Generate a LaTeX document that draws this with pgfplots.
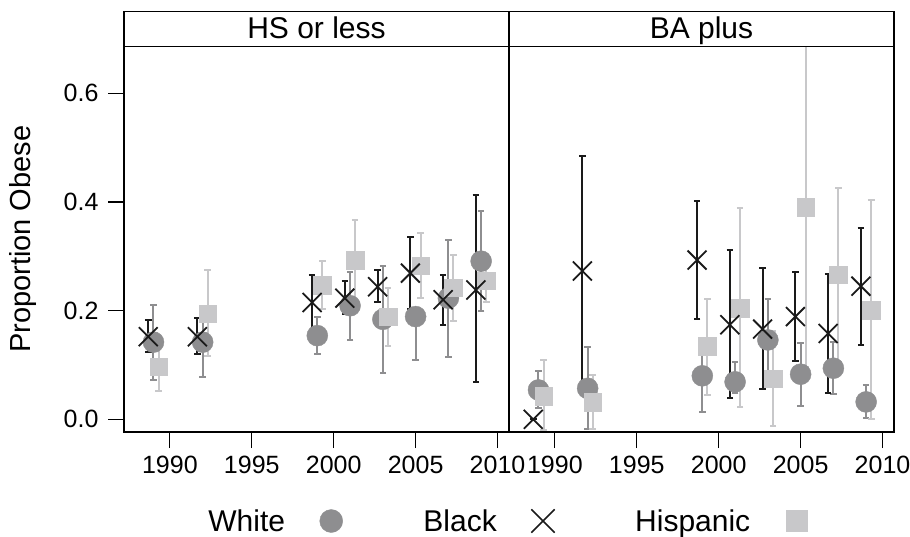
\documentclass[border=0pt]{standalone}
\usepackage{fontspec}
\setmainfont{Liberation Sans}
\usepackage{pgfplots}
\pgfplotsset{compat=1.18}
\usepackage{pgfplotstable}

\definecolor{wcol}{HTML}{8E8E90}
\definecolor{hcol}{HTML}{C8C8CA}
\definecolor{bcol}{HTML}{1A1A1A}

% proportion obese with interval ends, by survey year
\pgfplotstableread{
year wy    wlo    whi   by    blo   bhi   hy    hlo    hhi
1989 0.142 0.072  0.210 0.152 0.124 0.183 0.097 0.052  0.141
1992 0.142 0.078  0.205 0.152 0.121 0.186 0.194 0.117  0.274
1999 0.154 0.120  0.189 0.215 0.164 0.266 0.247 0.203  0.292
2001 0.209 0.146  0.272 0.223 0.193 0.255 0.293 0.220  0.367
2003 0.184 0.086  0.282 0.244 0.215 0.274 0.189 0.135  0.241
2005 0.189 0.109  0.195 0.269 0.203 0.335 0.283 0.223  0.342
2007 0.223 0.114  0.330 0.220 0.174 0.266 0.242 0.180  0.302
2009 0.291 0.199  0.383 0.238 0.069 0.412 0.255 0.215  0.293
}\hsless

\pgfplotstableread{
year wy    wlo    whi   by    blo   bhi   hy    hlo    hhi
1989 0.054 0.020  0.088 0.000 0.000 0.000 0.043 -0.020 0.110
1992 0.057 -0.018 0.133 0.273 0.058 0.485 0.032 -0.018 0.082
1999 0.080 0.013  0.148 0.293 0.185 0.402 0.134 0.045  0.222
2001 0.069 0.048  0.106 0.174 0.039 0.312 0.205 0.023  0.388
2003 0.146 0.070  0.221 0.166 0.055 0.278 0.075 -0.012 0.163
2005 0.083 0.025  0.140 0.189 0.108 0.271 0.390 0.097  0.750
2007 0.094 0.047  0.143 0.158 0.048 0.267 0.266 0.106  0.426
2009 0.032 0.002  0.063 0.245 0.137 0.353 0.201 0.000  0.404
}\baplus

\pgfplotsset{
  panel/.style={
    scale only axis, width=385pt, height=385.3pt,
    xmin=1987.2, xmax=2010.7, ymin=-0.0234, ymax=0.6858,
    xtick={1990,1995,2000,2005,2010},
    axis line style={line width=1.2pt},
    tick style={line width=1.2pt, black},
    major tick length=16pt, tick align=outside,
    xtick pos=left, ytick pos=left,
    /pgf/number format/assume math mode=true,
    tick label style={font=\fontsize{25}{27}\selectfont},
    xticklabel style={/pgf/number format/1000 sep={}, yshift=-5pt},
  },
  ebar/.style={error bars/y dir=both, error bars/y explicit,
    error bars/error bar style={line width=2pt, #1},
    error bars/error mark options={rotate=90, mark size=3.3pt, line width=2pt, #1}},
  wser/.style={only marks, mark=*, mark size=10.5pt,
    mark options={draw=wcol, fill=wcol}, ebar=wcol},
  hser/.style={only marks, mark=square*, mark size=8.8pt,
    mark options={draw=hcol, fill=hcol}, ebar=hcol},
  bser/.style={only marks, mark=x, mark size=13.4pt,
    mark options={draw=bcol, line width=1.8pt}, ebar=bcol},
}

\newcommand{\drawpanel}[1]{%
  \addplot[forget plot, wser] table[x=year, y=wy,
    y error plus expr=\thisrow{whi}-\thisrow{wy},
    y error minus expr=\thisrow{wy}-\thisrow{wlo}] {#1};
  \addplot[forget plot, hser] table[x expr=\thisrow{year}+0.31, y=hy,
    y error plus expr=\thisrow{hhi}-\thisrow{hy},
    y error minus expr=\thisrow{hy}-\thisrow{hlo}] {#1};
  \addplot[forget plot, bser] table[x expr=\thisrow{year}-0.32, y=by,
    y error plus expr=\thisrow{bhi}-\thisrow{by},
    y error minus expr=\thisrow{by}-\thisrow{blo}] {#1};
}

\begin{document}
\begin{tikzpicture}
  \path[use as bounding box] (0pt,0pt) rectangle (910pt,536pt);

  \begin{axis}[panel, at={(124pt,104pt)}, anchor=south west,
      ytick={0,0.2,0.4,0.6},
      yticklabel style={/pgf/number format/.cd, fixed, fixed zerofill, precision=1,
        /tikz/.cd, xshift=-6pt},
      ylabel={Proportion Obese},
      ylabel style={font=\fontsize{29}{31}\selectfont, at={(axis description cs:-0.262,0.5)}, anchor=center},
      legend plot pos=right, legend columns=3,
      legend image code/.code={\draw[#1] plot coordinates {(46pt,0pt)}; \path (0pt,0pt) (58pt,0pt);},
      legend style={draw=none, fill=none, inner sep=0pt, nodes={inner sep=0pt},
        font=\fontsize{30}{32}\selectfont,
        at={(axis description cs:0.2186,-0.231)}, anchor=west,
        /tikz/every even column/.append style={column sep=80pt}},
    ]
    \drawpanel{\hsless}
    \addlegendimage{only marks, mark=*, mark size=11.5pt, mark options={draw=wcol, fill=wcol}}
    \addlegendentry{White}
    \addlegendimage{only marks, mark=x, mark size=16.5pt, mark options={draw=bcol, line width=1.6pt}}
    \addlegendentry{Black}
    \addlegendimage{only marks, mark=square*, mark size=10.5pt, mark options={draw=hcol, fill=hcol}}
    \addlegendentry{Hispanic}
  \end{axis}

  \begin{axis}[panel, at={(509pt,104pt)}, anchor=south west, ytick=\empty]
    \drawpanel{\baplus}
  \end{axis}

  % strip labels
  \draw[line width=1.2pt] (124pt,489.3pt) rectangle (509pt,524.3pt);
  \draw[line width=1.2pt] (509pt,489.3pt) rectangle (894pt,524.3pt);
  \node[font=\fontsize{30}{32}\selectfont, anchor=base] at (316.5pt,497pt) {HS or less};
  \node[font=\fontsize{30}{32}\selectfont, anchor=base] at (701.5pt,497pt) {BA plus};
\end{tikzpicture}
\end{document}
